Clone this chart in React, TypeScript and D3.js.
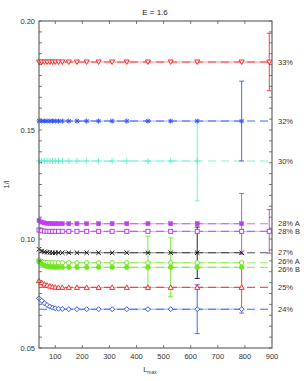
import * as d3 from 'd3';

const lmax = [40, 50, 60, 70, 80, 90, 100, 112, 126, 150, 180, 216, 260, 310, 364, 442, 526, 624, 788, 890];

const labels = ['33%', '32%', '30%', '28% A', '28% B', '27%', '26% A', '26% B', '25%', '24%'];
// fitted asymptote per series (dashed line)
const limits = [0.1812, 0.1541, 0.1358, 0.1070, 0.1035, 0.0937, 0.0891, 0.0870, 0.0778, 0.0678];
// small vertical nudges so the crowded labels stay readable
const labelShift = [0, 0, 0, 0, 0, 0, -1.5, 1.8, 0, 0];

const v33 = [0.1812, 0.1812, 0.1812, 0.1812, 0.1812, 0.1812, 0.1812, 0.1812, 0.1812, 0.1812, 0.1812, 0.1812, 0.1812, 0.1812, 0.1812, 0.1812, 0.1812, 0.1812, 0.1812, 0.1812];
const v32 = [0.1541, 0.1541, 0.1541, 0.1541, 0.1541, 0.1541, 0.1541, 0.1541, 0.1541, 0.1541, 0.1541, 0.1541, 0.1541, 0.1541, 0.1541, 0.1541, 0.1541, 0.1541, 0.1541];
const v30 = [0.1358, 0.1358, 0.1358, 0.1358, 0.1358, 0.1358, 0.1358, 0.1358, 0.1358, 0.1358, 0.1358, 0.1358, 0.1358, 0.1358, 0.1358, 0.1358, 0.1358, 0.1358];
const v28a = [0.1085, 0.1078, 0.1074, 0.1072, 0.1071, 0.1070, 0.1070, 0.1070, 0.1070, 0.1070, 0.1070, 0.1070, 0.1070, 0.1070, 0.1070, 0.1070, 0.1070, 0.1070, 0.1070];
const v28b = [0.1041, 0.1038, 0.1036, 0.1035, 0.1035, 0.1035, 0.1035, 0.1035, 0.1035, 0.1035, 0.1035, 0.1035, 0.1035, 0.1035, 0.1035, 0.1035, 0.1035, 0.1035, 0.1035, 0.1035];
const v27 = [0.0953, 0.0945, 0.0941, 0.0939, 0.0938, 0.0937, 0.0937, 0.0937, 0.0937, 0.0937, 0.0937, 0.0937, 0.0937, 0.0937, 0.0937, 0.0937, 0.0937, 0.0937, 0.0937];
const v26a = [0.0904, 0.0897, 0.0893, 0.0892, 0.0891, 0.0891, 0.0891, 0.0891, 0.0891, 0.0891, 0.0891, 0.0891, 0.0891, 0.0891, 0.0891, 0.0891, 0.0891, 0.0891, 0.0891];
const v26b = [0.0896, 0.0885, 0.0878, 0.0874, 0.0872, 0.0871, 0.0870, 0.0870, 0.0870, 0.0870, 0.0870, 0.0870, 0.0870, 0.0870, 0.0870, 0.0870, 0.0870, 0.0870, 0.0870];
const v25 = [0.0809, 0.0800, 0.0793, 0.0788, 0.0784, 0.0781, 0.0779, 0.0778, 0.0778, 0.0778, 0.0778, 0.0778, 0.0778, 0.0778, 0.0778, 0.0778, 0.0778, 0.0778, 0.0778];
const v24 = [0.0728, 0.0717, 0.0705, 0.0697, 0.0690, 0.0685, 0.0682, 0.0680, 0.0679, 0.0678, 0.0678, 0.0678, 0.0678, 0.0678, 0.0678, 0.0678, 0.0678, 0.0678, 0.0678];

const values = [v33, v32, v30, v28a, v28b, v27, v26a, v26b, v25, v24];

// error bars: series index, L_max, half-width
const errSeries = [0, 1, 2, 3, 4, 5, 6, 7, 8, 9];
const errL = [890, 788, 624, 788, 890, 624, 442, 526, 788, 624];
const errHalf = [0.0132, 0.0183, 0.0183, 0.0139, 0.0100, 0.0118, 0.0122, 0.0135, 0.0118, 0.0112];

const xTicks = [100, 200, 300, 400, 500, 600, 700, 800, 900];
const yTicks = [0.05, 0.10, 0.15, 0.20];

const colors = ['#ff2a2a', '#3355ff', '#66f0d0', '#c23cf5', '#c23cf5', '#111111', '#6fe620', '#6fe620', '#ff2a2a', '#3355ff'];
const dashColors = ['#ff4040', '#4466ff', '#80f4dc', '#d070fa', '#d070fa', '#555555', '#9cf060', '#9cf060', '#ff5050', '#4466ff'];
const markers = ['triDown', 'star', 'plus', 'squareF', 'squareO', 'cross', 'circleO', 'circleF', 'triUp', 'diamond'];

const W = 306;
const H = 381;
const left = 39;
const right = 272;
const top = 21;
const bottom = 348;

function Marker({ type, x, y, color }: { type: string; x: number; y: number; color: string }) {
  const s = 2.5;
  const sw = 1;
  switch (type) {
    case 'triDown':
      return <path d={`M${x - s},${y - s * 0.8}L${x + s},${y - s * 0.8}L${x},${y + s}Z`} fill="white" stroke={color} strokeWidth={sw} />;
    case 'triUp':
      return <path d={`M${x - s},${y + s * 0.8}L${x + s},${y + s * 0.8}L${x},${y - s}Z`} fill="white" stroke={color} strokeWidth={sw} />;
    case 'star':
      return (
        <path
          d={`M${x - s},${y}H${x + s}M${x},${y - s}V${y + s}M${x - s * 0.75},${y - s * 0.75}L${x + s * 0.75},${y + s * 0.75}M${x - s * 0.75},${y + s * 0.75}L${x + s * 0.75},${y - s * 0.75}`}
          stroke={color}
          strokeWidth={sw}
        />
      );
    case 'plus':
      return <path d={`M${x - 3},${y}H${x + 3}M${x},${y - 3}V${y + 3}`} stroke={color} strokeWidth={sw} />;
    case 'cross':
      return <path d={`M${x - 2.2},${y - 2.2}L${x + 2.2},${y + 2.2}M${x - 2.2},${y + 2.2}L${x + 2.2},${y - 2.2}`} stroke={color} strokeWidth={sw} />;
    case 'squareF':
      return <rect x={x - 2} y={y - 2} width={4} height={4} fill={color} stroke={color} strokeWidth={0.5} />;
    case 'squareO':
      return <rect x={x - 2} y={y - 2} width={4} height={4} fill="white" stroke={color} strokeWidth={sw} />;
    case 'circleO':
      return <circle cx={x} cy={y} r={2.2} fill="white" stroke={color} strokeWidth={sw} />;
    case 'circleF':
      return <circle cx={x} cy={y} r={2.4} fill={color} stroke={color} strokeWidth={0.5} />;
    case 'diamond':
      return <path d={`M${x},${y - s}L${x + s},${y}L${x},${y + s}L${x - s},${y}Z`} fill="white" stroke={color} strokeWidth={sw} />;
    default:
      return null;
  }
}

export default function App() {
  const x = d3.scaleLinear().domain([40, 900]).range([left, right]);
  const y = d3.scaleLinear().domain([0.05, 0.20]).range([bottom, top]);
  const minor = d3.range(0.05, 0.2001, 0.005);
  const line = d3.line<number>().x((_, i) => x(lmax[i])).y((d) => y(d));
  const font = 'Liberation Sans, Arial, sans-serif';

  return (
    <svg width={W} height={H} style={{ position: 'absolute', left: 0, top: 0, background: 'white' }} fontFamily={font}>
      <text x={155} y={15} fontSize={8} textAnchor="middle" fill="#222">E = 1.6</text>

      {/* dashed asymptotes */}
      {limits.map((v, i) => (
        <line key={'d' + i} x1={left} x2={right} y1={y(v)} y2={y(v)} stroke={dashColors[i]} strokeWidth={1.1} strokeDasharray="8,5" />
      ))}

      {/* solid connectors */}
      {values.map((vals, i) => (
        <path key={'l' + i} d={line(vals) || ''} fill="none" stroke={colors[i]} strokeWidth={0.7} opacity={0.7} />
      ))}

      {/* error bars */}
      {errSeries.map((si, k) => {
        const idx = lmax.indexOf(errL[k]);
        const c = values[si][idx];
        const xx = x(errL[k]);
        const y1 = y(c + errHalf[k]);
        const y2 = y(c - errHalf[k]);
        return (
          <g key={'e' + k} stroke={colors[si]} strokeWidth={0.9}>
            <line x1={xx} x2={xx} y1={y1} y2={y2} />
            <line x1={xx - 2.5} x2={xx + 2.5} y1={y1} y2={y1} />
            <line x1={xx - 2.5} x2={xx + 2.5} y1={y2} y2={y2} />
          </g>
        );
      })}

      {/* markers */}
      {values.map((vals, i) =>
        vals.map((v, j) => <Marker key={`m${i}-${j}`} type={markers[i]} x={x(lmax[j])} y={y(v)} color={colors[i]} />)
      )}

      {/* frame */}
      <rect x={left} y={top} width={right - left} height={bottom - top} fill="none" stroke="#666" strokeWidth={1.2} />

      {/* y ticks */}
      {minor.map((t, i) => (
        <g key={'yt' + i} stroke="#555" strokeWidth={0.8}>
          <line x1={left} x2={left + 3} y1={y(t)} y2={y(t)} />
          <line x1={right} x2={right - 3} y1={y(t)} y2={y(t)} />
        </g>
      ))}
      {yTicks.map((t) => (
        <text key={'yl' + t} x={35} y={y(t) + 2.5} fontSize={7.5} textAnchor="end" fill="#333">{t.toFixed(2)}</text>
      ))}

      {/* x ticks */}
      {xTicks.map((t) => (
        <g key={'xt' + t}>
          {t < 900 && (
            <g stroke="#555" strokeWidth={0.8}>
              <line x1={x(t)} x2={x(t)} y1={bottom} y2={bottom - 3} />
              <line x1={x(t)} x2={x(t)} y1={top} y2={top + 3} />
            </g>
          )}
          <text x={x(t)} y={359} fontSize={7.5} textAnchor="middle" fill="#333">{t}</text>
        </g>
      ))}

      {/* series labels on the right */}
      {labels.map((l, i) => (
        <text key={'r' + i} x={278} y={y(limits[i]) + 2.7 + labelShift[i]} fontSize={7.5} fill="#333">{l}</text>
      ))}

      <text transform={`translate(9,${(top + bottom) / 2}) rotate(-90)`} fontSize={7.5} textAnchor="middle" fill="#333">1/l</text>
      <text x={150} y={372} fontSize={7.5} textAnchor="middle" fill="#333">
        L<tspan fontSize={5} dy={2}>max</tspan>
      </text>
    </svg>
  );
}
